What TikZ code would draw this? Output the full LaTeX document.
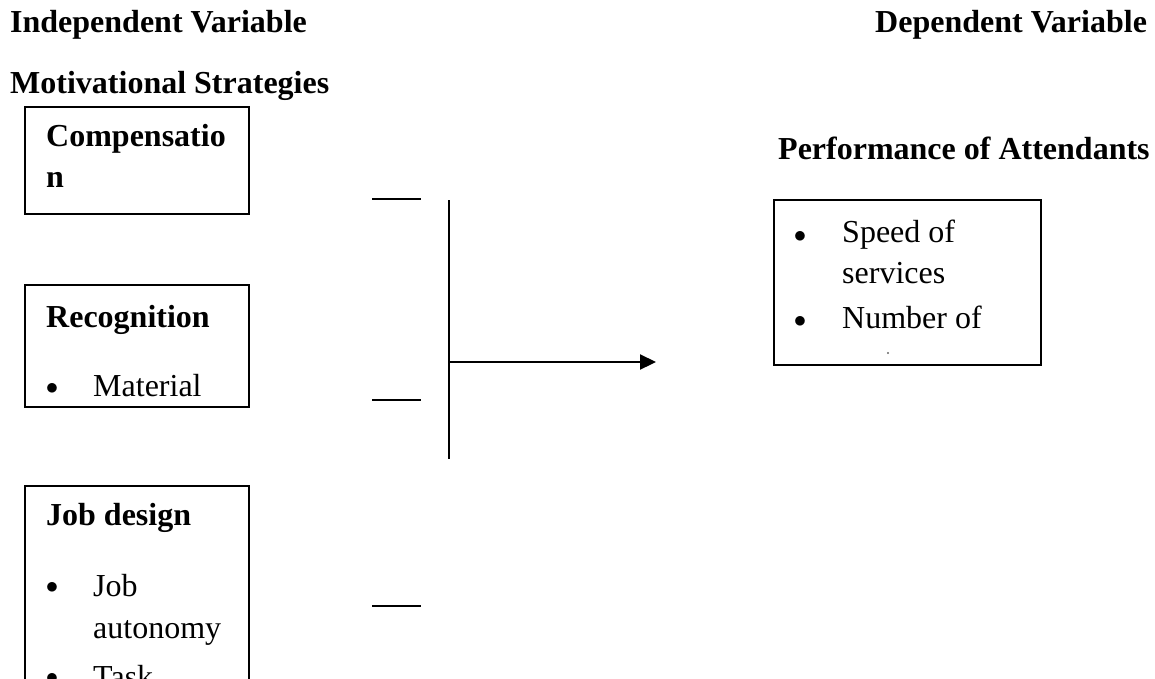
\documentclass[tikz,border=0pt]{standalone}
\usepackage{fontspec}
\setmainfont{Liberation Serif}
\usetikzlibrary{arrows.meta, positioning}
\newcommand{\listdot}{$\bullet$}
\tikzset{
  varbox/.style  = {draw=black, line width=2pt, anchor=north west, inner sep=0pt},
  heading/.style = {font=\fontsize{32}{38}\selectfont\bfseries, anchor=base west, inner sep=0pt},
  item/.style    = {font=\fontsize{32}{38}\selectfont, anchor=base west, inner sep=0pt},
  dotmark/.style = {font=\fontsize{56}{60}\selectfont, anchor=base, inner sep=0pt},
}

\begin{document}
\begin{tikzpicture}[
            x=1pt, y=-1pt,
            >={Triangle[length=16pt, width=15pt]},
            link/.style ={line width=2pt, draw=black},
            stub/.style ={line width=1.5pt, draw=black},
            flow/.style ={->, line width=2.2pt, draw=black},
        ]
        \useasboundingbox (0,0) rectangle (1155,678);
        \clip (0,0) rectangle (1155,678);

        %% --- Column titles -------------------------------------------------
        \node[heading] (indep) at (10,32) {Independent Variable};
        \node[heading] (dep)   at (875,32) {Dependent Variable};
        \node[heading] (strat) at (10,93) {Motivational Strategies};

        %% --- Independent variables -----------------------------------------
        \node[varbox, minimum width=224pt, minimum height=107pt] (comp) at (24,106) {};
        \node[heading] (compA) at (46,146) {Compensatio};
        \node[heading] (compB) at (46,187) {n};

        \node[varbox, minimum width=224pt, minimum height=122pt] (recog) at (24,284) {};
        \node[heading] (recogT) at (46,327) {Recognition};
        \node[dotmark] (recogB) at (52,394) {\listdot};
        \node[item] (recogI) at (93,396) {Material};

        \node[varbox, minimum width=224pt, minimum height=240pt] (job) at (24,485) {};
        \node[heading] (jobT) at (46,525) {Job design};
        \node[dotmark] (jobB1) at (52,593) {\listdot};
        \node[item] (jobI1) at (93,596) {Job};
        \node[item] (jobI2) at (93,638) {autonomy};
        \node[dotmark] (jobB2) at (52,684) {\listdot};
        \node[item] (jobI3) at (93,687) {Task};

        %% --- Short stubs beside the boxes ----------------------------------
        \coordinate (s1a) at (372,199);  \coordinate (s1b) at (421,199);
        \coordinate (s2a) at (372,400);  \coordinate (s2b) at (421,400);
        \coordinate (s3a) at (372,606);  \coordinate (s3b) at (421,606);
        \draw[stub] (s1a) -- (s1b);
        \draw[stub] (s2a) -- (s2b);
        \draw[stub] (s3a) -- (s3b);

        %% --- Collector bar and arrow ---------------------------------------
        \coordinate (vtop) at (449,200);
        \coordinate (vbot) at (449,459);
        \coordinate (join) at (449,362);
        \coordinate (tip)  at (656,362);
        \draw[link] (vtop) -- (vbot);
        \draw[flow] (join) -- (tip);

        %% --- Dependent variable --------------------------------------------
        \node[heading] (perf) at (778,159) {Performance of Attendants};
        \node[varbox, minimum width=267pt, minimum height=165pt] (perfbox) at (773,199) {};
        \node[dotmark] (perfB1) at (800,242) {\listdot};
        \node[item] (perfI1) at (842,242) {Speed of};
        \node[item] (perfI2) at (842,283) {services};
        \node[dotmark] (perfB2) at (800,327) {\listdot};
        \node[item] (perfI3) at (842,328) {Number of};
        \fill[black!60] (888,353) circle (1.2pt);

    \end{tikzpicture}
\end{document}
